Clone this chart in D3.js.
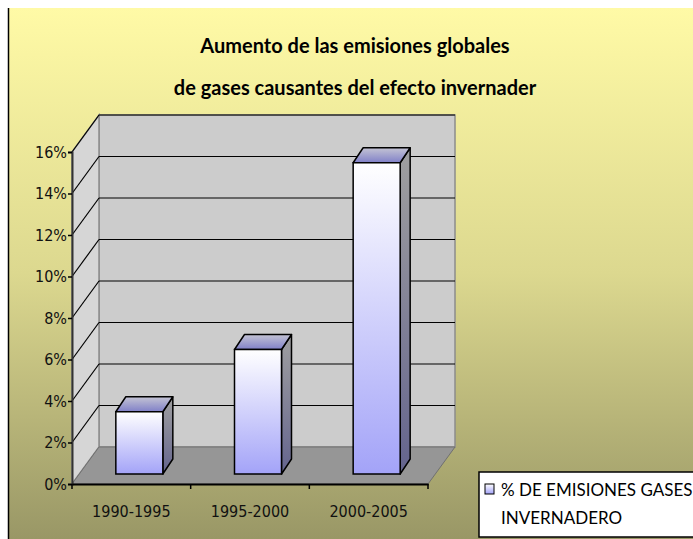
<!DOCTYPE html>
<html lang="es">
<head>
    <meta charset="UTF-8">
    <title>Aumento de las emisiones globales</title>
    <style>
        body { margin: 0; background: #ffffff; }
        svg { display: block; }
        .tick-label { font-family: "Liberation Sans Narrow", "DejaVu Sans Condensed", "DejaVu Sans", sans-serif; font-stretch: condensed; font-size: 16px; fill: #111; }
        .title { font-family: "Comic Sans MS", "Lato", sans-serif; font-weight: bold; font-size: 20px; fill: #000; }
        .legend-text { font-family: "Comic Sans MS", "Lato", sans-serif; font-size: 17px; fill: #000; }
    </style>
</head>
<body>
<div id="chart"></div>
<script src="https://d3js.org/d3.v7.min.js"></script>
<script>
    // Data
    const categories = ['1990-1995', '1995-2000', '2000-2005'];
    const values = [3, 6, 15];
    const yTicks = [0, 2, 4, 6, 8, 10, 12, 14, 16];
    const seriesName = ['% DE EMISIONES GASES', 'INVERNADERO'];
    const titleLines = ['Aumento de las emisiones globales', 'de gases causantes del efecto invernader'];

    const W = 693, H = 539;
    const depth = { dx: 27, dy: -37 };      // wall depth
    const barShift = { dx: 8, dy: -10 };    // bar front plane
    const barDepth = { dx: 10, dy: -15 };   // bar thickness

    const svg = d3.select('#chart').append('svg')
        .attr('width', W).attr('height', H);

    const defs = svg.append('defs');
    const bg = defs.append('linearGradient').attr('id', 'bg')
        .attr('x1', 0).attr('y1', 0).attr('x2', 0).attr('y2', 1);
    bg.append('stop').attr('offset', '0%').attr('stop-color', '#fffaa6');
    bg.append('stop').attr('offset', '50%').attr('stop-color', '#dcd88f');
    bg.append('stop').attr('offset', '100%').attr('stop-color', '#999766');

    const frontGrad = defs.append('linearGradient').attr('id', 'front')
        .attr('x1', 0).attr('y1', 0).attr('x2', 0).attr('y2', 1);
    frontGrad.append('stop').attr('offset', '0%').attr('stop-color', '#ffffff');
    frontGrad.append('stop').attr('offset', '100%').attr('stop-color', '#a3a3f8');

    const topGrad = defs.append('linearGradient').attr('id', 'topface')
        .attr('x1', 0).attr('y1', 0).attr('x2', 0).attr('y2', 1);
    topGrad.append('stop').attr('offset', '0%').attr('stop-color', '#c4c4d4');
    topGrad.append('stop').attr('offset', '100%').attr('stop-color', '#8080c8');

    const sideGrad = defs.append('linearGradient').attr('id', 'side')
        .attr('x1', 0).attr('y1', 0).attr('x2', 0).attr('y2', 1);
    sideGrad.append('stop').attr('offset', '0%').attr('stop-color', '#a0a0a0');
    sideGrad.append('stop').attr('offset', '100%').attr('stop-color', '#64648e');

    // background frame
    svg.append('rect').attr('x', 8).attr('y', 8).attr('width', W - 8).attr('height', H - 8)
        .attr('fill', 'url(#bg)');
    svg.append('line').attr('x1', 8.5).attr('x2', 8.5).attr('y1', 8).attr('y2', H)
        .attr('stroke', '#000').attr('stroke-width', 1.5);

    // scales
    const x = d3.scaleBand().domain(categories).range([72, 428]);
    const y = d3.scaleLinear().domain([0, 16]).range([484, 152]);

    const x0 = x.range()[0], x1 = x.range()[1];
    const yTop = y(16), yBot = y(0);
    const pts = a => a.map(p => p.join(',')).join(' ');

    // back wall
    svg.append('polygon')
        .attr('points', pts([[x0 + depth.dx, yTop + depth.dy], [x1 + depth.dx, yTop + depth.dy],
            [x1 + depth.dx, yBot + depth.dy], [x0 + depth.dx, yBot + depth.dy]]))
        .attr('fill', '#cccccc').attr('stroke', '#8c8c8c').attr('stroke-width', 1.5);

    // left wall
    svg.append('polygon')
        .attr('points', pts([[x0, yTop], [x0 + depth.dx, yTop + depth.dy],
            [x0 + depth.dx, yBot + depth.dy], [x0, yBot]]))
        .attr('fill', '#d6d6d6').attr('stroke', '#8c8c8c').attr('stroke-width', 1.5);

    // floor
    svg.append('polygon')
        .attr('points', pts([[x0, yBot], [x0 + depth.dx, yBot + depth.dy],
            [x1 + depth.dx, yBot + depth.dy], [x1, yBot]]))
        .attr('fill', '#969696').attr('stroke', '#707070').attr('stroke-width', 1);

    // gridlines
    const grid = yTicks.filter(t => t > 0);
    svg.append('g').selectAll('line.back').data(grid).enter().append('line')
        .attr('x1', x0 + depth.dx).attr('x2', x1 + depth.dx)
        .attr('y1', d => y(d) + depth.dy).attr('y2', d => y(d) + depth.dy)
        .attr('stroke', '#000').attr('stroke-width', 1.2);
    svg.append('g').selectAll('line.side').data(grid).enter().append('line')
        .attr('x1', x0).attr('x2', x0 + depth.dx)
        .attr('y1', d => y(d)).attr('y2', d => y(d) + depth.dy)
        .attr('stroke', '#000').attr('stroke-width', 1.2);

    // bars
    const bw = 47;
    const bars = svg.append('g').selectAll('g').data(values).enter().append('g');
    bars.each(function (v, i) {
        const g = d3.select(this);
        const bx = x(categories[i]) + (x.bandwidth() - bw) / 2 + barShift.dx;
        const by = y(v) + barShift.dy;
        const bb = yBot + barShift.dy;
        g.append('polygon')
            .attr('points', pts([[bx + bw, by], [bx + bw + barDepth.dx, by + barDepth.dy],
                [bx + bw + barDepth.dx, bb + barDepth.dy], [bx + bw, bb]]))
            .attr('fill', 'url(#side)').attr('stroke', '#000').attr('stroke-width', 1.5)
            .attr('stroke-linejoin', 'round');
        g.append('polygon')
            .attr('points', pts([[bx, by], [bx + barDepth.dx, by + barDepth.dy],
                [bx + bw + barDepth.dx, by + barDepth.dy], [bx + bw, by]]))
            .attr('fill', 'url(#topface)').attr('stroke', '#000').attr('stroke-width', 1.5)
            .attr('stroke-linejoin', 'round');
        g.append('rect')
            .attr('x', bx).attr('y', by).attr('width', bw).attr('height', bb - by)
            .attr('fill', 'url(#front)').attr('stroke', '#000').attr('stroke-width', 1.5);
    });

    // y axis
    const yAxis = svg.append('g').attr('transform', `translate(${x0},0)`)
        .call(d3.axisLeft(y).tickValues(yTicks).tickSize(4).tickFormat(d => d + '%'));
    yAxis.select('.domain').attr('stroke', '#333').attr('stroke-width', 2);
    yAxis.selectAll('.tick line').attr('stroke', '#000').attr('stroke-width', 1.5);
    yAxis.selectAll('.tick text').attr('class', 'tick-label').attr('x', -5);
    yAxis.attr('font-family', null).attr('font-size', null);

    // x axis
    const xAxis = svg.append('g').attr('transform', `translate(0,${yBot})`)
        .call(d3.axisBottom(x).tickSize(0).tickPadding(22));
    xAxis.select('.domain').attr('stroke', '#000').attr('stroke-width', 2);
    xAxis.attr('font-family', null).attr('font-size', null);
    xAxis.selectAll('.tick text').attr('class', 'tick-label').style('font-size', '16px');
    const bounds = categories.map(c => x(c)).concat([x1]);
    svg.append('g').selectAll('line').data(bounds).enter().append('line')
        .attr('x1', d => d).attr('x2', d => d).attr('y1', yBot).attr('y2', yBot + 5)
        .attr('stroke', '#000').attr('stroke-width', 1.5);

    // title
    svg.append('g').selectAll('text').data(titleLines).enter().append('text')
        .attr('class', 'title').attr('text-anchor', 'middle')
        .attr('x', 355).attr('y', (d, i) => 53 + i * 42)
        .text(d => d);

    // legend
    const lg = svg.append('g').attr('transform', 'translate(479,472)');
    lg.append('rect').attr('x', 0).attr('y', 0).attr('width', 240).attr('height', 65)
        .attr('fill', '#fff').attr('stroke', '#000').attr('stroke-width', 1.5);
    lg.append('rect').attr('x', 6).attr('y', 12).attr('width', 9).attr('height', 10)
        .attr('fill', 'url(#front)').attr('stroke', '#000').attr('stroke-width', 1);
    lg.selectAll('text.legend-text').data(seriesName).enter().append('text')
        .attr('class', 'legend-text').attr('x', 22).attr('y', (d, i) => 24 + i * 28)
        .text(d => d);
</script>
</body>
</html>
